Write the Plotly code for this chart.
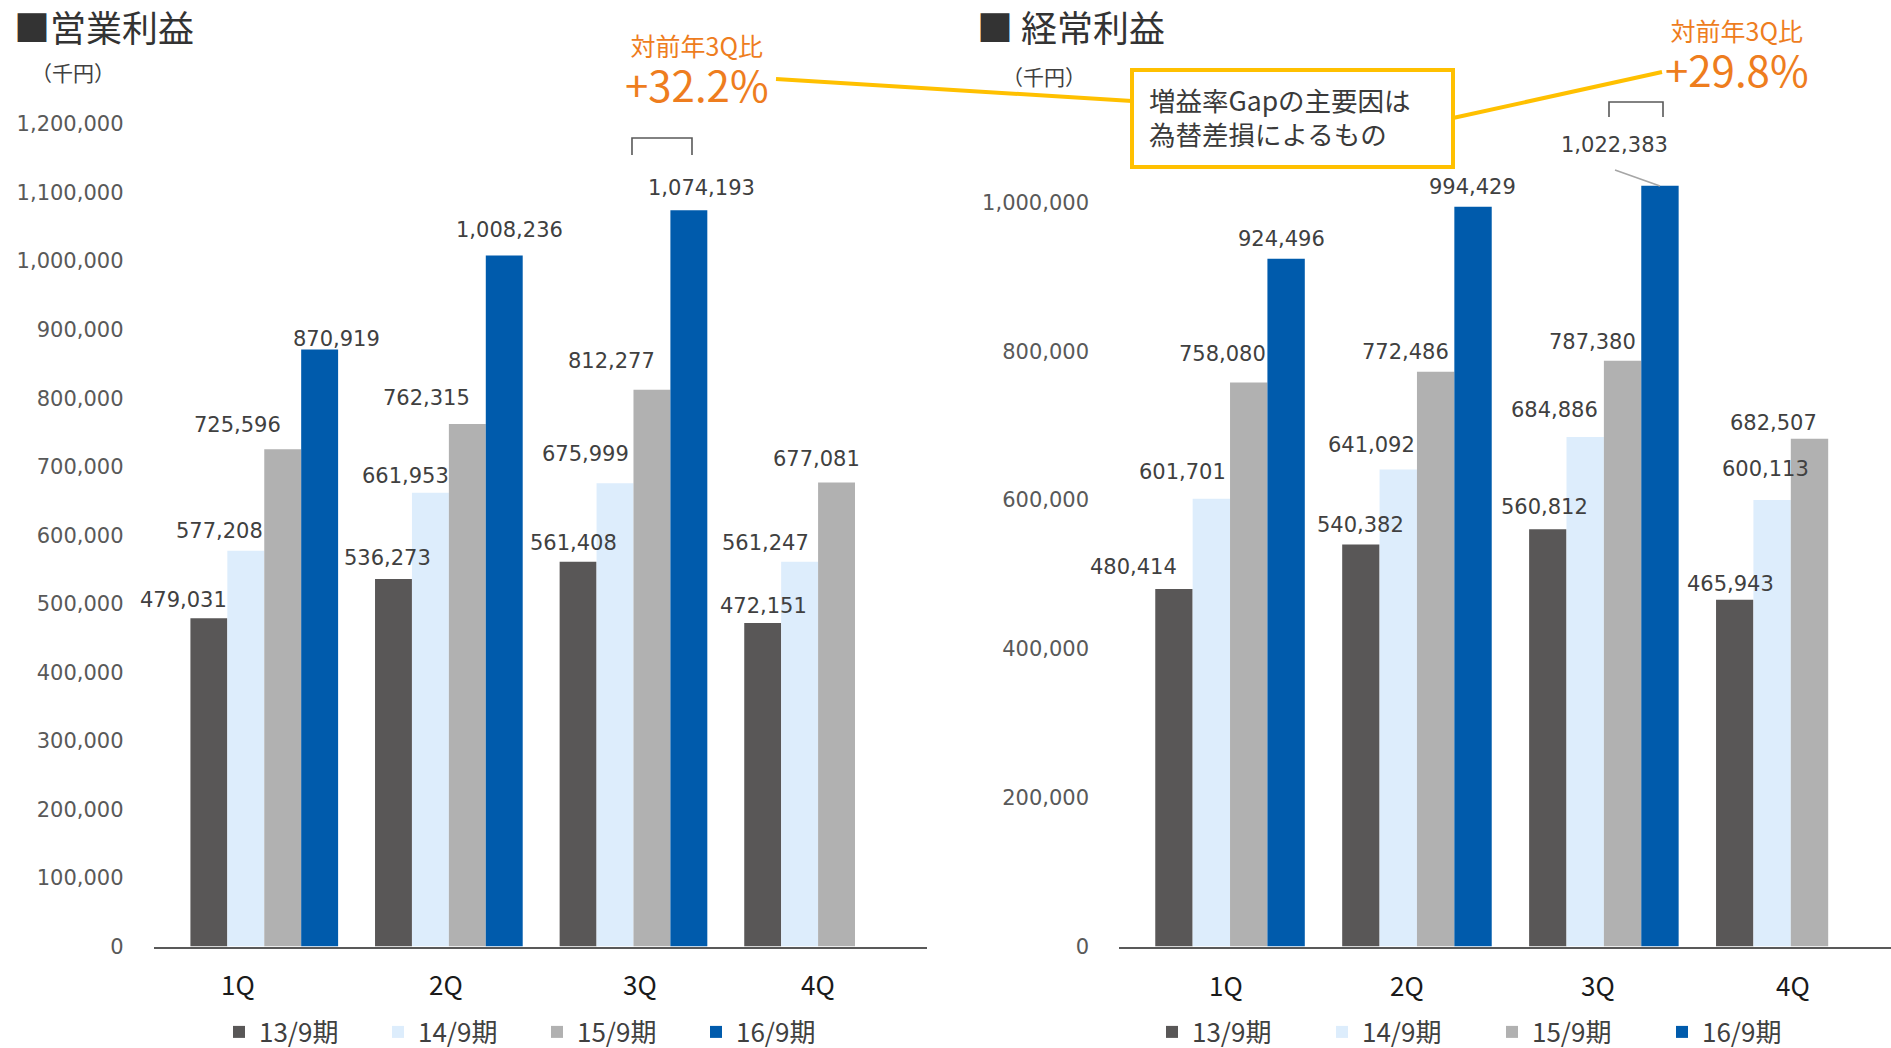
import plotly.graph_objects as go

W, H = 1891, 1048

# ---------------- data ----------------
quarters = ["1Q", "2Q", "3Q", "4Q"]
series_names = ["13/9期", "14/9期", "15/9期", "16/9期"]

op_13 = [479031, 536273, 561408, 472151]
op_14 = [577208, 661953, 675999, 561247]
op_15 = [725596, 762315, 812277, 677081]
op_16 = [870919, 1008236, 1074193]

ord_13 = [480414, 540382, 560812, 465943]
ord_14 = [601701, 641092, 684886, 600113]
ord_15 = [758080, 772486, 787380, 682507]
ord_16 = [924496, 994429, 1022383]

left_ticks = [0, 100000, 200000, 300000, 400000, 500000, 600000,
              700000, 800000, 900000, 1000000, 1100000, 1200000]
right_ticks = [0, 200000, 400000, 600000, 800000, 1000000]

left_title = "■営業利益"
right_title = "■ 経常利益"
unit_text = "（千円）"
yoy_label = "対前年3Q比"
left_yoy = "+32.2%"
right_yoy = "+29.8%"
note_line1 = "増益率Gapの主要因は"
note_line2 = "為替差損によるもの"

# ---------------- styles / layout positions ----------------
colors = ["#595757", "#DDEDFC", "#B1B1B1", "#005BAC"]
JP = "Noto Sans CJK JP"
NUM = "DejaVu Sans"
ORANGE = "#EE7D1E"
YELLOW = "#FFC000"

# data-label offsets in pixels (dx, dy) relative to (category centre, bar top)
left_label_offsets = [
    [(-81, 18), (-61, 21), (-60, 19), (-55, 17)],
    [(-45, 20), (-43, 17), (-48, 29), (-53, 19)],
    [(-27, 24), (-22, 26), (-22, 29), (-2, 23)],
    [(72, 11), (61, 25), (68, 22)],
]
right_label_offsets = [
    [(-97, 22), (-56, 19), (-59, 22), (-60, 16)],
    [(-48, 27), (-45, 25), (-49, 27), (-25, 31)],
    [(-8, 28), (-11, 20), (-11, 19), (-17, 16)],
    [(51, 20), (56, 20), (11, 41)],
]
left_cat_shift = [-26, -3, 7, 0]
right_cat_shift = [-4, -10, -6, 2]


def px(x):
    return x / W


def py(y):
    return 1 - y / H


left_series = [op_13, op_14, op_15, op_16]
right_series = [ord_13, ord_14, ord_15, ord_16]

fig = go.Figure()
for i, name in enumerate(series_names):
    vals = left_series[i]
    fig.add_trace(go.Bar(
        x=quarters[:len(vals)], y=vals, name=name,
        marker=dict(color=colors[i], line=dict(width=0)),
        xaxis="x", yaxis="y", legend="legend", hoverinfo="x+y",
    ))
for i, name in enumerate(series_names):
    vals = right_series[i]
    fig.add_trace(go.Bar(
        x=quarters[:len(vals)], y=vals, name=name,
        marker=dict(color=colors[i], line=dict(width=0)),
        xaxis="x2", yaxis="y2", legend="legend2", hoverinfo="x+y",
    ))

annotations = []
label_font = dict(family=NUM, size=21, color="#404040")

for series, offsets, xr, yr in [(left_series, left_label_offsets, "x", "y"),
                                (right_series, right_label_offsets, "x2", "y2")]:
    for vals, offs in zip(series, offsets):
        for q, v, (dx, dy) in zip(quarters, vals, offs):
            annotations.append(dict(
                x=q, y=v, xref=xr, yref=yr, text=f"{v:,}", showarrow=False,
                xshift=dx, yshift=dy, xanchor="center", yanchor="middle",
                font=label_font))

cat_font = dict(family=JP, size=26, color="#1A1A1A")
for q, s in zip(quarters, left_cat_shift):
    annotations.append(dict(x=q, y=0, xref="x", yref="y", text=q, showarrow=False,
                            xshift=s, yshift=-36.5, xanchor="center", yanchor="middle",
                            font=cat_font))
for q, s in zip(quarters, right_cat_shift):
    annotations.append(dict(x=q, y=0, xref="x2", yref="y2", text=q, showarrow=False,
                            xshift=s, yshift=-37.5, xanchor="center", yanchor="middle",
                            font=cat_font))


def paper_text(text, x, y, size, color, family=JP, xanchor="left", align="left"):
    annotations.append(dict(x=px(x), y=py(y), xref="paper", yref="paper", text=text,
                            showarrow=False, xanchor=xanchor, yanchor="middle", align=align,
                            font=dict(family=family, size=size, color=color)))


def yoy_text(label, value, x, y):
    # two-line orange callout: small label above, big percentage below
    annotations.append(dict(
        x=px(x), y=py(y), xref="paper", yref="paper", showarrow=False,
        xanchor="center", yanchor="middle", align="center",
        text=f"<span style='font-size:25px'>{label}</span><br>"
             f"<span style='font-size:42px'>{value}</span>",
        font=dict(family=JP, size=35, color=ORANGE)))


paper_text(left_title, 12, 26.5, 36, "#333333")
paper_text(right_title, 975, 26.5, 36, "#333333")
paper_text(unit_text, 73, 72, 21, "#404040", xanchor="center")
paper_text(unit_text, 1044, 76, 21, "#404040", xanchor="center")
yoy_text(yoy_label, left_yoy, 697, 70.5)
yoy_text(yoy_label, right_yoy, 1737, 55)
paper_text(f"{note_line1}<br>{note_line2}", 1147, 116, 26.5, "#3A3A3A")


def ppath(points):
    return "M" + " L".join(f"{px(x):.5f},{py(y):.5f}" for x, y in points)


shapes = [
    # brackets
    dict(type="path", xref="paper", yref="paper",
         path=ppath([(632, 155), (632, 138), (692, 138), (692, 155)]),
         line=dict(color="#595959", width=1.6)),
    dict(type="path", xref="paper", yref="paper",
         path=ppath([(1609, 117), (1609, 102), (1663, 102), (1663, 117)]),
         line=dict(color="#595959", width=1.6)),
    # leader line for 1,022,383
    dict(type="line", xref="paper", yref="paper", x0=px(1615), y0=py(170),
         x1=px(1660), y1=py(186), line=dict(color="#A6A6A6", width=1.6)),
    # yellow connectors
    dict(type="line", xref="paper", yref="paper", x0=px(776), y0=py(79),
         x1=px(1132), y1=py(101), line=dict(color=YELLOW, width=4)),
    dict(type="line", xref="paper", yref="paper", x0=px(1453), y0=py(118),
         x1=px(1662), y1=py(72), line=dict(color=YELLOW, width=4)),
    # note box
    dict(type="rect", xref="paper", yref="paper", x0=px(1132), y0=py(70),
         x1=px(1453), y1=py(167), line=dict(color=YELLOW, width=4),
         fillcolor="white"),
]

axis_common = dict(showgrid=False, zeroline=False, fixedrange=True)

fig.update_layout(
    width=W, height=H,
    margin=dict(l=0, r=0, t=0, b=0, autoexpand=False),
    paper_bgcolor="white", plot_bgcolor="white",
    barmode="group", bargap=0.2, bargroupgap=0,
    font=dict(family=JP),
    xaxis=dict(domain=[px(153.5), px(927)], range=[-0.6, 3.59], type="category",
               categoryorder="array", categoryarray=quarters,
               showline=True, linecolor="#595959", linewidth=2,
               showticklabels=False, ticks="", anchor="y", **axis_common),
    yaxis=dict(domain=[py(946.5), py(124)], range=[0, 1200000],
               tickmode="array", tickvals=left_ticks, tickformat=",d",
               showline=False, ticks="", ticklabelstandoff=29,
               tickfont=dict(family=NUM, size=21, color="#595959"),
               anchor="x", **axis_common),
    xaxis2=dict(domain=[px(1119), 1.0], range=[-0.594, 3.536], type="category",
                categoryorder="array", categoryarray=quarters,
                showline=True, linecolor="#595959", linewidth=2,
                showticklabels=False, ticks="", anchor="y2", **axis_common),
    yaxis2=dict(domain=[py(946.5), py(53.7)], range=[0, 1200000],
                tickmode="array", tickvals=right_ticks, tickformat=",d",
                showline=False, ticks="", ticklabelstandoff=29,
                tickfont=dict(family=NUM, size=21, color="#595959"),
                anchor="x2", **axis_common),
    legend=dict(orientation="h", x=px(219), y=py(1032), xanchor="left", yanchor="middle",
                entrywidth=114, entrywidthmode="pixels", bgcolor="rgba(0,0,0,0)",
                font=dict(family=JP, size=26, color="#404040"), traceorder="normal"),
    legend2=dict(orientation="h", x=px(1152), y=py(1032), xanchor="left", yanchor="middle",
                 entrywidth=125, entrywidthmode="pixels", bgcolor="rgba(0,0,0,0)",
                 font=dict(family=JP, size=26, color="#404040"), traceorder="normal"),
    showlegend=True,
    annotations=annotations,
    shapes=shapes,
)

fig.write_html("out.html", config={"displayModeBar": False},
               post_script="document.body.style.margin='0';document.body.style.overflow='hidden';")
